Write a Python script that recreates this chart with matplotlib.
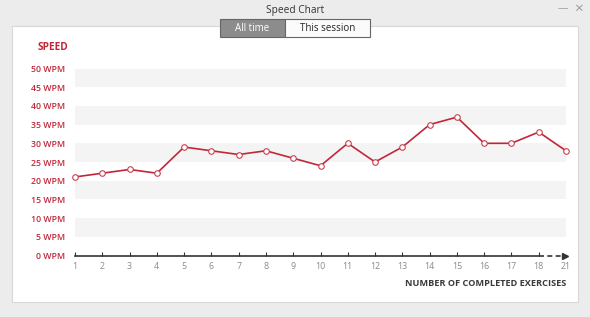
import matplotlib
matplotlib.use("Agg")
import matplotlib.pyplot as plt
from matplotlib.patches import Rectangle
from matplotlib.lines import Line2D

plt.rcParams['font.family'] = ['Open Sans', 'DejaVu Sans']

exercise_labels = ['1', '2', '3', '4', '5', '6', '7', '8', '9', '10', '11', '12',
                   '13', '14', '15', '16', '17', '18', '21']
speed_wpm = [21, 22, 23, 22, 29, 28, 27, 28, 26, 24, 30, 25, 29, 35, 37, 30, 30, 33, 28]
y_ticks = [0, 5, 10, 15, 20, 25, 30, 35, 40, 45, 50]
y_labels = [f"{v} WPM" for v in y_ticks]

W, H = 590, 317
fig = plt.figure(figsize=(W / 100, H / 100), dpi=100)
fig.patch.set_facecolor('#ececec')

def px(x, y, w, h):
    return (x / W, 1 - (y + h) / H, w / W, h / H)

# white panel
l, b, w, h = px(12, 26, 566, 276)
fig.patches.append(Rectangle((l, b), w, h, transform=fig.transFigure,
                             facecolor='white', edgecolor='#d8d8d8', lw=0.8, zorder=-5))

# title & window controls
fig.text(295 / W, 1 - 10 / H, 'Speed Chart', ha='center', va='center', fontsize=7.3, color='#333333')
fig.text(563 / W, 1 - 9 / H, '—', ha='center', va='center', fontsize=7.5, color='#9a9a9a')
fig.text(578 / W, 1 - 9 / H, '×', ha='center', va='center', fontsize=11, color='#9a9a9a')

# buttons
l, b, w, h = px(220, 19, 65, 18)
fig.patches.append(Rectangle((l, b), w, h, transform=fig.transFigure,
                             facecolor='#8c8c8c', edgecolor='#666666', lw=0.8, zorder=2))
fig.text((220 + 32.5) / W, 1 - 28.5 / H, 'All time', ha='center', va='center', fontsize=7, color='white', zorder=3)
l, b, w, h = px(285, 19, 85, 18)
fig.patches.append(Rectangle((l, b), w, h, transform=fig.transFigure,
                             facecolor='#fbfbfb', edgecolor='#666666', lw=0.8, zorder=2))
fig.text((285 + 42.5) / W, 1 - 28.5 / H, 'This session', ha='center', va='center', fontsize=7, color='#222222', zorder=3)

# axes
x0, x1 = 75, 566
ytop, ybot = 68.5, 255.5
ax = fig.add_axes((x0 / W, 1 - ybot / H, (x1 - x0) / W, (ybot - ytop) / H))
ax.set_zorder(1)
ax.set_facecolor('white')
n = len(exercise_labels)
xs = list(range(n))
ax.set_xlim(0, n - 1)
ax.set_ylim(0, 50)
for s in ax.spines.values():
    s.set_visible(False)

for lo in [45, 35, 25, 15, 5]:
    ax.axhspan(lo, lo + 5, color='#f4f4f4', lw=0, zorder=0)

ax.plot(xs, speed_wpm, color='#c1273a', lw=1.2, zorder=3, clip_on=False,
        marker='o', markersize=4.0, markerfacecolor='white', markeredgecolor='#c9404f',
        markeredgewidth=0.8)

ax.set_yticks(y_ticks)
ax.set_yticklabels(y_labels, fontsize=6.3, color='#c0283a', fontweight='semibold')
ax.tick_params(axis='y', length=0, pad=7)

ax.set_xticks(xs)
ax.set_xticklabels(exercise_labels, fontsize=6.4, color='#8a8a8a')
ax.tick_params(axis='x', direction='in', length=3, width=0.8, color='#333333', pad=5)

# x axis line: solid to 18, dashed to 21, with arrow
ax.add_line(Line2D([0, n - 2], [0, 0], color='#333333', lw=1.2, clip_on=False, zorder=4))
ax.add_line(Line2D([n - 2, n - 1 - 0.15], [0, 0], color='#333333', lw=1.2, ls=(0, (3, 2)),
                   clip_on=False, zorder=4))
ax.plot([n - 1 - 0.05], [0], marker='>', color='#333333', markersize=4, clip_on=False, zorder=5)
ax.xaxis.get_major_ticks()[-1].tick1line.set_visible(False)

fig.text(38 / W, 1 - 48 / H, 'SPEED', ha='left', va='center', fontsize=7.3,
         color='#c0283a', fontweight='bold')
fig.text(566 / W, 1 - 284 / H, 'NUMBER OF COMPLETED EXERCISES', ha='right', va='center',
         fontsize=6.6, color='#3a3a3a', fontweight='bold')

fig.savefig('out.png', dpi=100, facecolor=fig.get_facecolor())
